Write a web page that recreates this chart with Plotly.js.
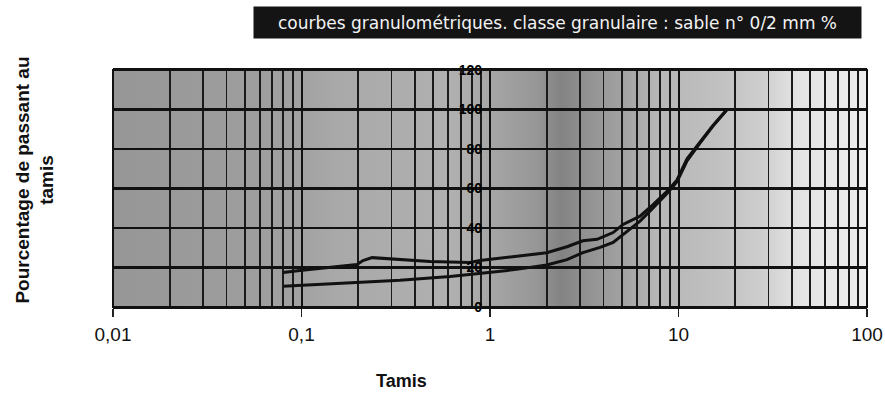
<!DOCTYPE html>
<html>
<head>
<meta charset="utf-8">
<script src="https://cdn.plot.ly/plotly-3.0.1.min.js"></script>
<style>
html,body{margin:0;padding:0;background:#fff;}
#chart{width:885px;height:393px;}
</style>
</head>
<body>
<div id="chart"></div>
<script>
// ---- data ----
const sieveUpper = [0.08, 0.098, 0.197, 0.212, 0.237, 0.333, 0.481, 0.78, 0.885, 1.32, 2.0, 2.56, 3.11, 3.70, 4.50, 5.08, 6.25, 7.33, 8.69, 9.82, 11.1, 13.0, 15.2, 18.1];
const passUpper  = [17.5, 18.5, 21.5, 23.5, 25, 24, 23, 22.5, 23.5, 25.5, 27.5, 30.5, 33.5, 34.3, 37.7, 41.8, 46, 51.8, 58.5, 64.3, 75, 83.5, 91.8, 100];

const sieveLower = [0.08, 0.181, 0.333, 0.614, 0.885, 1.32, 2.0, 2.56, 3.11, 3.84, 4.50, 5.08, 6.25, 7.33, 8.69, 9.82, 11.1, 13.0, 15.2, 18.1];
const passLower  = [10.5, 12, 13.5, 15.5, 17, 18.8, 21.3, 24, 27.5, 30.2, 32.7, 36.8, 43.5, 50.2, 57.5, 63.5, 74, 83, 91.5, 100];

const xTickVals = [0.01, 0.1, 1, 10, 100];
const xTickText = ['0,01', '0,1', '1', '10', '100'];
const yTickVals = [0, 20, 40, 60, 80, 100, 120];

const titleText = 'courbes granulométriques. classe granulaire : sable n° 0/2 mm %';
const xTitle = 'Tamis';
const yTitle = 'Pourcentage de passant au<br>tamis';

// minor gridline positions (2..9 in each decade)
const minorVals = [];
[0.01, 0.1, 1, 10].forEach(d => { for (let k = 2; k <= 9; k++) minorVals.push(+(k * d).toPrecision(3)); });

// scanned-paper like background
const bgStops = [
  [0, '#969696'], [0.235, '#a0a0a0'], [0.30, '#a9a9a9'], [0.45, '#b0b0b0'],
  [0.50, '#a6a6a6'], [0.56, '#979797'], [0.595, '#838383'], [0.63, '#929292'],
  [0.68, '#a4a4a4'], [0.72, '#b6b6b6'], [0.80, '#c0c0c0'], [0.86, '#cecece'],
  [0.91, '#e4e4e4'], [1, '#eeeeee']
];
const svg = '<svg xmlns="http://www.w3.org/2000/svg" width="754" height="237" preserveAspectRatio="none">' +
  '<defs><linearGradient id="g" x1="0" y1="0" x2="1" y2="0">' +
  bgStops.map(s => '<stop offset="' + s[0] + '" stop-color="' + s[1] + '"/>').join('') +
  '</linearGradient></defs><rect width="754" height="237" fill="url(#g)"/></svg>';
const bgSrc = 'data:image/svg+xml;charset=utf-8,' + encodeURIComponent(svg);

const traces = [
  {x: sieveUpper, y: passUpper, type: 'scatter', mode: 'lines', name: 'courbe 1',
   line: {color: '#111', width: 3}, hoverinfo: 'x+y'},
  {x: sieveLower, y: passLower, type: 'scatter', mode: 'lines', name: 'courbe 2',
   line: {color: '#111', width: 3}, hoverinfo: 'x+y'}
];

const layout = {
  width: 885, height: 393,
  margin: {l: 113, r: 18, t: 70, b: 86},
  paper_bgcolor: '#ffffff',
  plot_bgcolor: 'rgba(0,0,0,0)',
  showlegend: false,
  font: {family: 'Liberation Sans, Arial, sans-serif', color: '#111'},
  xaxis: {
    type: 'log', range: [-2, 2],
    tickmode: 'array', tickvals: xTickVals, ticktext: xTickText,
    ticks: 'outside', ticklen: 8, tickwidth: 1.5, tickcolor: '#222',
    ticklabelstandoff: 1,
    tickfont: {size: 19, color: '#111'},
    showgrid: true, gridcolor: '#111', gridwidth: 2,
    minor: {tickmode: 'array', tickvals: minorVals, showgrid: true, gridcolor: '#1a1a1a', gridwidth: 1.8, ticks: ''},
    showline: true, linecolor: '#111', linewidth: 2, mirror: true,
    zeroline: false
  },
  yaxis: {
    range: [0, 120],
    tickmode: 'array', tickvals: yTickVals,
    anchor: 'free', position: 0.5,
    ticks: '', ticklabelstandoff: 8,
    tickfont: {size: 14, color: '#000', weight: 'bold'},
    showgrid: true, gridcolor: '#111', gridwidth: 2.5,
    showline: false, zeroline: false
  },
  shapes: [
    {type: 'rect', xref: 'paper', yref: 'paper', x0: 0, x1: 1, y0: 0, y1: 1,
     line: {color: '#111', width: 2}, fillcolor: 'rgba(0,0,0,0)', layer: 'above'}
  ],
  images: [
    {source: bgSrc, xref: 'paper', yref: 'paper', x: 0, y: 1, sizex: 1, sizey: 1,
     xanchor: 'left', yanchor: 'top', sizing: 'stretch', layer: 'below'}
  ],
  annotations: [
    {text: titleText, xref: 'paper', yref: 'paper', x: 0.5895, y: 1.2004,
     xanchor: 'center', yanchor: 'middle', showarrow: false,
     width: 605, height: 29, bgcolor: '#141414', borderpad: 1,
     font: {family: 'DejaVu Sans, sans-serif', size: 17, color: '#f2f2f2'}},
    {text: '<b>' + xTitle + '</b>', xref: 'paper', yref: 'paper', x: 0.383, y: -0.312,
     xanchor: 'center', yanchor: 'middle', showarrow: false,
     font: {size: 18, color: '#111'}},
    {text: '<b>' + yTitle + '</b>', xref: 'paper', yref: 'paper', x: -0.104, y: 0.536,
     xanchor: 'center', yanchor: 'middle', showarrow: false, textangle: -90,
     font: {size: 19, color: '#111'}}
  ]
};

Plotly.newPlot('chart', traces, layout, {displayModeBar: false, staticPlot: true});
</script>
</body>
</html>
